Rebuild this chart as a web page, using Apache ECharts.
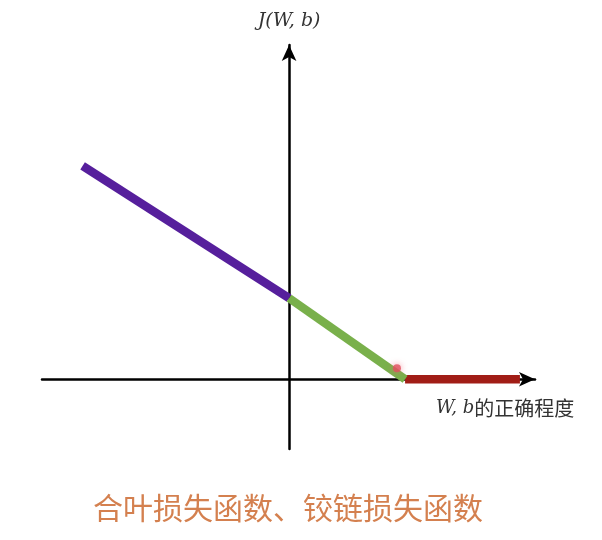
<!DOCTYPE html>
<html>
<head>
<meta charset="utf-8">
<script src="https://cdn.jsdelivr.net/npm/echarts@6/dist/echarts.min.js"></script>
<style>html,body{margin:0;padding:0;background:#fff}#c{width:602px;height:540px}</style>
</head>
<body>
<div id="c"></div>
<script>
// Hinge loss pieces (x: correctness of W,b ; y: J(W,b))
const purpleX = [-1.78, 0];
const purpleY = [2.63, 1];
const greenX = [0, 1];
const greenY = [1, 0];
const redX = [1, 1.99];
const redY = [0, 0];
const dotPoint = [0.93, 0.136];
const xRange = [-2.13, 2.12];
const yRange = [-0.86, 4.12];
const yAxisName = 'J(W, b)';
const xAxisNameItalic = 'W, b';
const xAxisNameText = '的正确程度';
const titleText = '合叶损失函数、铰链损失函数';

const pairs = (xs, ys) => xs.map((x, i) => [x, ys[i]]);

const chart = echarts.init(document.getElementById('c'));
chart.setOption({
  animation: false,
  backgroundColor: '#fff',
  grid: { left: 42, right: 67, top: 45, bottom: 91 },
  xAxis: {
    type: 'value', min: xRange[0], max: xRange[1],
    splitLine: { show: false }, axisTick: { show: false }, axisLabel: { show: false },
    axisLine: { onZero: true, lineStyle: { color: '#000', width: 2.5 }, symbol: ['none', 'arrow'], symbolSize: [11, 16] }
  },
  yAxis: {
    type: 'value', min: yRange[0], max: yRange[1],
    splitLine: { show: false }, axisTick: { show: false }, axisLabel: { show: false },
    axisLine: { onZero: true, lineStyle: { color: '#000', width: 2.5 }, symbol: ['none', 'arrow'], symbolSize: [11, 16] },
    name: yAxisName, nameLocation: 'end', nameGap: 14,
    nameTextStyle: { fontFamily: 'DejaVu Serif', fontStyle: 'italic', fontSize: 19, color: '#333' }
  },
  graphic: [
    {
      type: 'text', left: 436, top: 398,
      style: {
        rich: {
          i: { fontFamily: 'DejaVu Serif', fontStyle: 'italic', fontSize: 18, fill: '#333' },
          c: { fontFamily: 'Noto Sans CJK SC', fontSize: 20, fill: '#333' }
        },
        text: '{i|' + xAxisNameItalic + '}{c|' + xAxisNameText + '}'
      }
    },
    {
      type: 'text', left: 93, top: 493,
      style: { text: titleText, fontFamily: 'Noto Sans CJK SC', fontSize: 30, fill: '#d4804f' }
    }
  ],
  series: [
    { type: 'line', data: pairs(purpleX, purpleY), symbol: 'none', lineStyle: { color: '#561f9c', width: 8.5 }, z: 3 },
    { type: 'line', data: pairs(redX, redY), symbol: 'none', lineStyle: { color: '#a11d16', width: 8.5 }, z: 3 },
    { type: 'line', data: pairs(greenX, greenY), symbol: 'none', lineStyle: { color: '#79b04b', width: 8.5 }, z: 4 },
    { type: 'scatter', data: [dotPoint], symbolSize: 8, itemStyle: { color: '#e0505e', shadowBlur: 6, shadowColor: 'rgba(240,100,120,0.8)' }, z: 5 }
  ]
});
</script>
</body>
</html>
